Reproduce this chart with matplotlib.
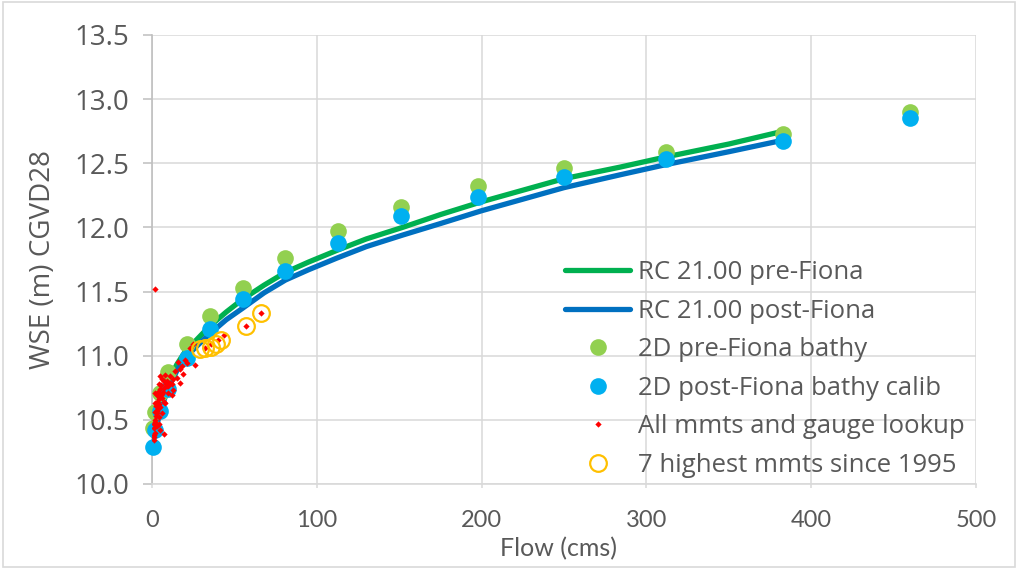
import matplotlib
matplotlib.use("Agg")
import matplotlib.pyplot as plt
from matplotlib.patches import Rectangle

plt.rcParams['font.family'] = ['Lato', 'DejaVu Sans']

# rating curves
rc_flow = [1, 2, 5, 10, 15, 20, 26, 35, 45, 55, 68, 81, 95, 112, 130, 152, 175, 200,
           225, 250, 284, 312, 350, 383]
rc_pre = [10.40, 10.45, 10.62, 10.80, 10.93, 11.03, 11.11, 11.23, 11.34, 11.44, 11.55,
          11.65, 11.73, 11.82, 11.91, 12.00, 12.10, 12.20, 12.29, 12.38, 12.47, 12.55,
          12.65, 12.75]
rc_post = [10.35, 10.40, 10.57, 10.75, 10.88, 10.98, 11.06, 11.17, 11.28, 11.37, 11.49,
           11.59, 11.67, 11.76, 11.85, 11.94, 12.03, 12.13, 12.22, 12.31, 12.41, 12.49,
           12.59, 12.68]

# 2D model runs
d2_flow = [0.5, 2, 5, 10, 21, 35, 55, 81, 113, 151, 198, 250, 312, 383, 460]
d2_pre = [10.44, 10.56, 10.71, 10.87, 11.09, 11.31, 11.53, 11.76, 11.97, 12.16, 12.32,
          12.46, 12.59, 12.73, 12.90]
d2_post = [10.29, 10.42, 10.57, 10.74, 10.98, 11.21, 11.44, 11.66, 11.88, 12.09, 12.24,
           12.39, 12.53, 12.67, 12.85]

# measurements + gauge lookup
mm_flow = [1, 2, 7, 3, 2, 4, 3, 5, 2, 4, 6, 3, 2, 5, 7, 4, 9, 11, 6, 13, 17, 15, 8, 19,
           17, 26, 21, 16, 23, 25, 13, 12, 10, 8, 6, 5, 1.5, 3, 4, 2.5, 3.5, 6, 9, 11,
           14, 18, 20, 32, 36, 40, 44, 57, 66, 2,
           1, 1.5, 2, 2.5, 3, 3, 4, 4.5, 5, 5.5, 6.5, 7.5, 8.5, 3.5, 2, 1, 5, 7, 10, 12]
mm_wse = [10.34, 10.40, 10.39, 10.45, 10.50, 10.52, 10.58, 10.60, 10.63, 10.66, 10.67,
          10.69, 10.71, 10.74, 10.75, 10.78, 10.76, 10.79, 10.82, 10.82, 10.79, 10.83,
          10.85, 10.86, 10.90, 10.93, 10.94, 10.95, 11.06, 11.09, 10.73, 10.69, 10.71,
          10.63, 10.55, 10.42, 10.37, 10.55, 10.47, 10.61, 10.72, 10.70, 10.80, 10.84,
          10.88, 10.92, 10.97, 11.06, 11.09, 11.12, 11.16, 11.23, 11.33, 11.52,
          10.38, 10.44, 10.48, 10.53, 10.57, 10.64, 10.62, 10.68, 10.70, 10.77, 10.72,
          10.80, 10.78, 10.60, 10.56, 10.47, 10.84, 10.64, 10.76, 10.78]

# 7 highest measurements since 1995
hi_flow = [29, 32, 36, 39, 42, 57, 66]
hi_wse = [11.05, 11.06, 11.07, 11.09, 11.12, 11.23, 11.33]

grid_c = '#D9D9D9'
text_c = '#595959'
wide = ['Open Sans', 'DejaVu Sans']

fig = plt.figure(figsize=(10.18, 5.69), dpi=100)
fig.patches.append(Rectangle((0.003, 0.004), 0.994, 0.992, transform=fig.transFigure,
                             fill=False, edgecolor=grid_c, linewidth=1.2))
ax = fig.add_axes([0.1493, 0.1494, 0.8094, 0.7891])

ax.plot(rc_flow, rc_pre, color='#00B050', lw=3.8, solid_capstyle='round',
        label='RC 21.00 pre-Fiona', zorder=3)
ax.plot(rc_flow, rc_post, color='#0070C0', lw=3.8, solid_capstyle='round',
        label='RC 21.00 post-Fiona', zorder=3)
ax.plot(d2_flow, d2_pre, 'o', color='#92D050', ms=12, mew=0,
        label='2D pre-Fiona bathy', zorder=4, clip_on=False)
ax.plot(d2_flow, d2_post, 'o', color='#00B0F0', ms=12, mew=0,
        label='2D post-Fiona bathy calib', zorder=5, clip_on=False)
ax.plot(mm_flow, mm_wse, 'D', color='#FF0000', ms=3.2, mew=0,
        label='All mmts and gauge lookup', zorder=6)
ax.plot(hi_flow, hi_wse, 'o', mfc='none', mec='#FFC000', ms=12, mew=1.6,
        label='7 highest mmts since 1995', zorder=7)

ax.set_xlim(0, 500)
ax.set_ylim(10.0, 13.5)
ax.set_xticks(range(0, 501, 100))
ax.set_yticks([10.0, 10.5, 11.0, 11.5, 12.0, 12.5, 13.0, 13.5])
ax.yaxis.set_major_formatter(plt.FormatStrFormatter('%.1f'))
ax.grid(True, color=grid_c, lw=1.1, zorder=0)
ax.set_axisbelow(True)

for s in ['top', 'right']:
    ax.spines[s].set_visible(False)
ax.spines['left'].set_color('#BFBFBF')
ax.spines['left'].set_linewidth(1.2)
ax.spines['bottom'].set_color(grid_c)
ax.spines['bottom'].set_linewidth(1.2)

ax.tick_params(axis='y', direction='out', length=6.5, width=1.1, color='#BFBFBF',
               labelcolor=text_c, pad=10)
ax.tick_params(axis='x', direction='out', length=3, width=1.1, color=grid_c,
               labelsize=17, labelcolor=text_c, pad=16)
for t in ax.get_yticklabels():
    t.set_fontfamily(wide)
    t.set_fontsize(20)

ax.set_xlabel('Flow (cms)', fontsize=18, color=text_c)
ax.xaxis.set_label_coords(0.493, -0.117)
ax.set_ylabel('WSE (m) CGVD28', fontsize=20, color=text_c, fontfamily=wide)
ax.yaxis.set_label_coords(-0.115, 0.5)

leg = ax.legend(loc='upper left', bbox_to_anchor=(0.501, 0.499), frameon=False,
                prop={'family': wide, 'size': 18.5}, borderpad=0, borderaxespad=0,
                handlelength=2.55, handletextpad=0.3, labelspacing=0.53)
for t in leg.get_texts():
    t.set_color(text_c)

fig.savefig('out.png', dpi=100)
